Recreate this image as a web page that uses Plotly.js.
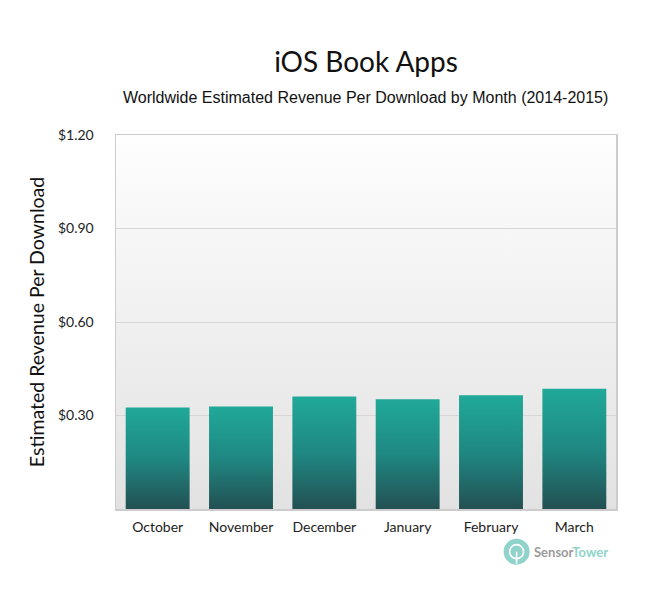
<!DOCTYPE html>
<html>
<head>
<meta charset="utf-8">
<script src="https://cdn.plot.ly/plotly-3.0.1.min.js"></script>
<style>html,body{margin:0;padding:0;background:#fff;}</style>
</head>
<body>
<div id="chart" style="width:650px;height:600px;"></div>
<script>
const months = ["October", "November", "December", "January", "February", "March"];
const revenuePerDownload = [0.326, 0.329, 0.361, 0.352, 0.365, 0.386];
const yTickVals = [0.3, 0.6, 0.9, 1.2];
const yTickText = ["$0.30", "$0.60", "$0.90", "$1.20"];

const trace = {
  type: "bar",
  x: months,
  y: revenuePerDownload,
  marker: {color: "#20a898", line: {width: 0}},
  hoverinfo: "none"
};

const L = 116, R = 616.5, T = 135, B = 509.3;
function px(x) { return (x - L) / (R - L); }
function py(y) { return (B - y) / (B - T); }

const tickFont = {family: "Lato, 'Open Sans', sans-serif", size: 14, color: "#222"};

const layout = {
  width: 650, height: 600,
  margin: {l: L, r: 650 - R, t: T, b: 600 - B},
  paper_bgcolor: "#ffffff",
  plot_bgcolor: "#eeeeee",
  showlegend: false,
  bargap: 0.233,
  title: {
    text: "iOS Book Apps",
    font: {family: "Lato, 'Open Sans', sans-serif", size: 28, color: "#111"},
    x: 366 / 650, xanchor: "center",
    y: 0.897, yanchor: "middle", yref: "container"
  },
  annotations: [
    {
      text: "Worldwide Estimated Revenue Per Download by Month (2014-2015)",
      xref: "paper", yref: "paper",
      x: px(366), y: py(97),
      xanchor: "center", yanchor: "middle",
      showarrow: false,
      font: {family: "'Liberation Sans', Arial, sans-serif", size: 16, color: "#111"}
    },
    {
      text: "<b>Sensor<span style='color:#8fd3cb'>Tower</span></b>",
      xref: "paper", yref: "paper",
      x: px(532), y: py(552),
      xanchor: "left", yanchor: "middle",
      showarrow: false,
      font: {family: "Lato, 'Open Sans', sans-serif", size: 13, color: "#9a9a9a"}
    }
  ],
  shapes: [
    {
      type: "circle", xref: "paper", yref: "paper",
      x0: px(504), x1: px(530),
      y0: py(565), y1: py(539),
      fillcolor: "#8fd3cb", line: {width: 0}
    },
    {
      type: "circle", xref: "paper", yref: "paper",
      x0: px(510), x1: px(524),
      y0: py(559), y1: py(545),
      fillcolor: "rgba(0,0,0,0)", line: {width: 1.6, color: "#ffffff"}
    },
    {
      type: "line", xref: "paper", yref: "paper",
      x0: px(517), x1: px(517),
      y0: py(552), y1: py(564),
      line: {width: 1.6, color: "#ffffff"}
    }
  ],
  xaxis: {
    type: "category",
    tickfont: tickFont,
    showgrid: false,
    showline: true, linecolor: "#cccccc", linewidth: 1.5, mirror: true,
    ticks: "", ticklabelstandoff: 5,
    fixedrange: true
  },
  yaxis: {
    range: [0, 1.2],
    tickvals: yTickVals,
    ticktext: yTickText,
    tickfont: tickFont,
    showgrid: true, gridcolor: "#d6d6d6", gridwidth: 1,
    showline: true, linecolor: "#cccccc", linewidth: 1.5, mirror: true,
    zeroline: false,
    ticks: "", ticklabelstandoff: 18,
    title: {
      text: "Estimated Revenue Per Download",
      font: {family: "Lato, 'Open Sans', sans-serif", size: 19.5, color: "#111"},
      standoff: 8
    },
    fixedrange: true
  }
};

Plotly.newPlot("chart", [trace], layout, {displayModeBar: false, staticPlot: true}).then(function (gd) {
  const svgNS = "http://www.w3.org/2000/svg";
  const svg = gd.querySelector("svg.main-svg");
  let defs = svg.querySelector("defs");
  if (!defs) { defs = document.createElementNS(svgNS, "defs"); svg.insertBefore(defs, svg.firstChild); }
  function grad(id, stops) {
    const g = document.createElementNS(svgNS, "linearGradient");
    g.setAttribute("id", id);
    g.setAttribute("x1", "0"); g.setAttribute("y1", "0");
    g.setAttribute("x2", "0"); g.setAttribute("y2", "1");
    stops.forEach(function (s) {
      const st = document.createElementNS(svgNS, "stop");
      st.setAttribute("offset", s[0]);
      st.setAttribute("stop-color", s[1]);
      g.appendChild(st);
    });
    defs.appendChild(g);
  }
  grad("barGrad", [["0", "#20a999"], ["0.5", "#1f8882"], ["1", "#235053"]]);
  grad("bgGrad", [["0", "#fefefe"], ["1", "#e2e2e2"]]);
  gd.querySelectorAll(".barlayer .point path").forEach(function (p) {
    p.style.fill = "url(#barGrad)";
  });
  const bg = gd.querySelector(".bglayer .bg");
  if (bg) bg.style.fill = "url(#bgGrad)";
});
</script>
</body>
</html>
